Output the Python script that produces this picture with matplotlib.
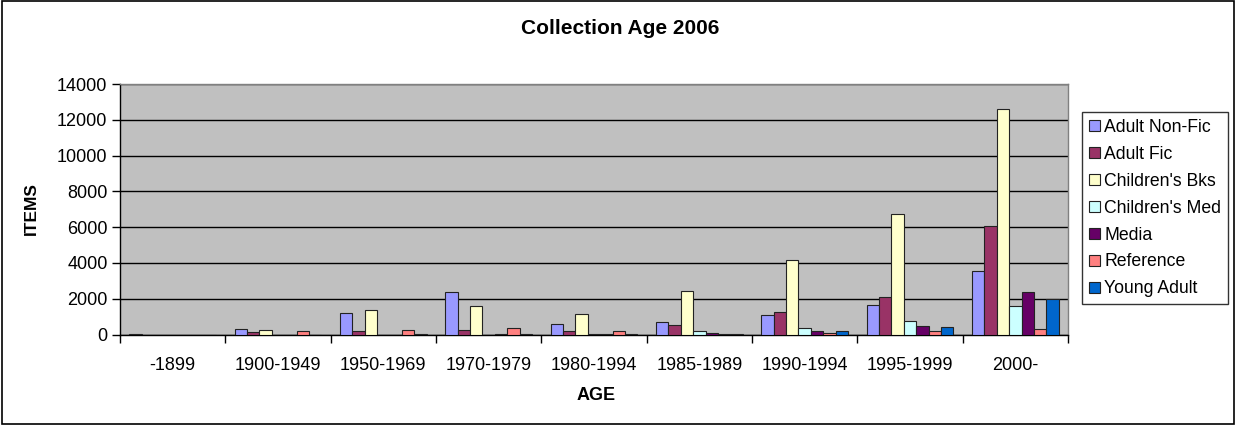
import matplotlib
matplotlib.use("Agg")
import matplotlib.pyplot as plt
import numpy as np
from matplotlib.patches import Rectangle

plt.rcParams['font.family'] = ['Liberation Sans', 'DejaVu Sans']

categories = ["-1899", "1900-1949", "1950-1969", "1970-1979", "1980-1994",
              "1985-1989", "1990-1994", "1995-1999", "2000-"]
adult_nonfic = [30, 300, 1200, 2400, 560, 720, 1100, 1670, 3570]
adult_fic = [0, 150, 200, 250, 220, 540, 1280, 2080, 6070]
childrens_bks = [0, 250, 1350, 1600, 1150, 2450, 4170, 6740, 12630]
childrens_med = [0, 0, 0, 0, 30, 170, 370, 740, 1600]
media = [0, 0, 0, 50, 30, 100, 170, 500, 2400]
reference = [0, 180, 250, 380, 170, 50, 100, 185, 310]
young_adult = [0, 0, 50, 50, 30, 50, 190, 440, 1990]

series_names = ["Adult Non-Fic", "Adult Fic", "Children's Bks", "Children's Med",
                "Media", "Reference", "Young Adult"]
series_values = [adult_nonfic, adult_fic, childrens_bks, childrens_med,
                 media, reference, young_adult]
colors = ["#9999FF", "#993366", "#FFFFCC", "#CCFFFF", "#660066", "#FF8080", "#0066CC"]

W, H = 1236, 425
fig = plt.figure(figsize=(W / 100, H / 100), dpi=100)
ax = fig.add_axes([120 / W, 1 - 334.5 / H, (1068 - 120) / W, (334.5 - 84) / H])
ax.set_facecolor("#C0C0C0")

x = np.arange(len(categories))
n = len(series_names)
bw = 1 / (n + 1.5)
for j, (name, vals, c) in enumerate(zip(series_names, series_values, colors)):
    ax.bar(x + (j - (n - 1) / 2) * bw, vals, width=bw, color=c, edgecolor="#222222",
           linewidth=0.8, label=name, zorder=3)

ax.set_xlim(-0.5, len(categories) - 0.5)
ax.set_ylim(0, 14000)
ax.set_yticks(np.arange(0, 14001, 2000))
ax.yaxis.grid(True, color="black", linewidth=1.0, zorder=1)
ax.set_axisbelow(True)

ax.set_xticks(np.arange(-0.5, len(categories), 1.0))
ax.set_xticklabels([])
ax.set_xticks(x, minor=True)
ax.set_xticklabels(categories, minor=True)
ax.tick_params(axis="x", which="minor", length=0, pad=16, labelsize=13)
ax.tick_params(axis="x", which="major", length=6, width=1, color="black", direction="out")
ax.tick_params(axis="y", length=6, width=1, color="black", direction="out", labelsize=13, pad=3)

for s in ["top", "right"]:
    ax.spines[s].set_color("#808080")
    ax.spines[s].set_linewidth(1)
for s in ["left", "bottom"]:
    ax.spines[s].set_color("black")
    ax.spines[s].set_linewidth(1)

fig.text(596 / W, 1 - 396 / H, "AGE", ha="center", va="center",
         fontsize=13, fontweight="bold")
fig.text(31 / W, 1 - 209 / H, "ITEMS", ha="center", va="center", rotation=90,
         fontsize=12.5, fontweight="bold")
fig.text(620 / W, 1 - 29 / H, "Collection Age 2006", ha="center", va="center",
         fontsize=15, fontweight="bold")

leg = ax.legend(loc="upper left", bbox_to_anchor=(1082 / W, 1 - 112 / H),
                bbox_transform=fig.transFigure, fontsize=12.7, frameon=True,
                fancybox=False, edgecolor="black", handlelength=0.6, handleheight=0.6,
                handletextpad=0.25, labelspacing=0.56, borderpad=0.4, borderaxespad=0)
leg.get_frame().set_linewidth(1)

fig.add_artist(Rectangle((2 / W, 1 / H), (W - 4) / W, (H - 2) / H, transform=fig.transFigure,
                         fill=False, edgecolor="black", linewidth=1.2))

fig.savefig("out.png", dpi=100)
